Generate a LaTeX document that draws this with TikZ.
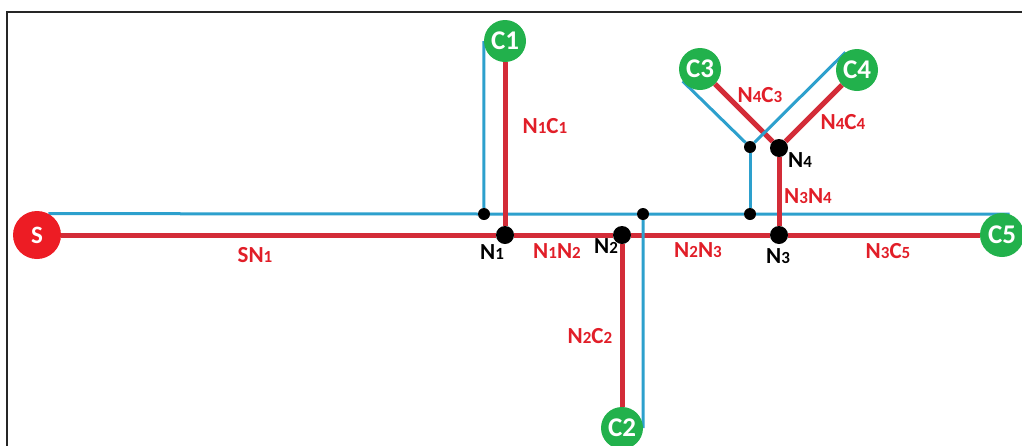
\documentclass[tikz,border=0pt]{standalone}
\usepackage{fontspec}
\setmainfont{Carlito}
\usepackage{tikz}
\usetikzlibrary{backgrounds}
\definecolor{redline}{RGB}{211, 44, 56}
\definecolor{redsrc}{RGB}{237, 28, 36}
\definecolor{blueline}{RGB}{45, 160, 205}
\definecolor{greencons}{RGB}{34, 177, 76}
\definecolor{redtext}{RGB}{225, 30, 40}
\newcommand{\dg}[1]{{\fontsize{17}{17}\selectfont #1}}

\begin{document}
\begin{tikzpicture}[x=1pt, y=-1pt,
  font=\fontsize{23}{26}\selectfont\bfseries,
  src/.style={circle, fill=redsrc, text=white, minimum size=48pt, inner sep=0pt,
    font=\fontsize{25}{25}\selectfont\bfseries},
  cons/.style={circle, fill=greencons, text=white, minimum size=42pt, inner sep=0pt,
    font=\fontsize{27}{27}\selectfont\bfseries},
  junc/.style={circle, fill=black, minimum size=18pt, inner sep=0pt},
  tap/.style={circle, fill=black, minimum size=12pt, inner sep=0pt},
  feed/.style={color=redline, line width=5pt},
  ret/.style={color=blueline, line width=3pt},
  lbl/.style={text=redtext, inner sep=0pt},
  nlbl/.style={text=black, inner sep=0pt}]
  \useasboundingbox (0, 0) rectangle (1022, 445);
  \draw [line width=1.5pt, color=black!85] (7, 446) -- (7, 12) -- (1023, 12);

  % source and consumers
  \node [src] (S) at (37, 235) {S};
  \node [cons] (C1) at (505, 41) {C1};
  \node [cons] (C2) at (622, 428) {C2};
  \node [cons] (C3) at (700, 69) {C3};
  \node [cons] (C4) at (857, 70) {C4};
  \node [cons, minimum size=44pt] (C5) at (1002, 235) {C5};

  % nodes of the feed line
  \node [junc] (N1) at (505, 235) {};
  \node [junc] (N2) at (622, 235) {};
  \node [junc] (N3) at (779, 235) {};
  \node [junc] (N4) at (779, 148) {};

  % taps of the return line
  \node [tap] (T1) at (484, 214) {};
  \node [tap] (T2) at (643, 214) {};
  \node [tap] (T3) at (750, 214) {};
  \node [tap] (T4) at (750, 147) {};

  \begin{scope}[on background layer]
    \draw [feed] (S) -- (N1) -- (N2) -- (N3) -- (C5);
    \draw [feed] (N4) -- (C3);
    \draw [ret] (S.62) -- (T1) -- (T2) -- (T3) -- (C5.70);
    \draw [ret] (C1.west) -- (T1);
    \draw [ret] (T2) -- (C2.east);
    \draw [ret] (T3) -- (T4);
    \draw [ret] (C3.215) -- (T4) -- (C4.123);
    \draw [feed] (N1) -- (C1);
    \draw [feed] (N2) -- (C2);
    \draw [feed] (N3) -- (N4);
    \draw [feed] (N4) -- (C4);
  \end{scope}

  % labels
  \node [lbl] (lSN1) at (255, 255) {SN\dg{1}};
  \node [lbl] (lN1C1) at (545, 126) {N\dg{1}C\dg{1}};
  \node [lbl] (lN1N2) at (557, 251) {N\dg{1}N\dg{2}};
  \node [lbl] (lN2N3) at (698, 250) {N\dg{2}N\dg{3}};
  \node [lbl] (lN2C2) at (590, 336) {N\dg{2}C\dg{2}};
  \node [lbl] (lN3N4) at (808, 196) {N\dg{3}N\dg{4}};
  \node [lbl] (lN3C5) at (888, 251) {N\dg{3}C\dg{5}};
  \node [lbl] (lN4C3) at (760, 95) {N\dg{4}C\dg{3}};
  \node [lbl] (lN4C4) at (843, 122) {N\dg{4}C\dg{4}};

  \node [nlbl] (lN1) at (492, 252) {N\dg{1}};
  \node [nlbl] (lN2) at (606, 246) {N\dg{2}};
  \node [nlbl] (lN3) at (778, 256) {N\dg{3}};
  \node [nlbl] (lN4) at (800, 160) {N\dg{4}};
\end{tikzpicture}
\end{document}
